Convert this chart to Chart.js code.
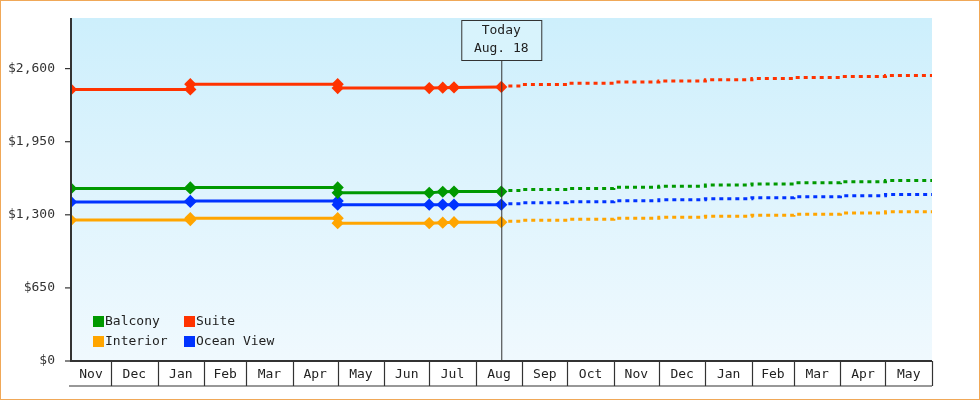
<!DOCTYPE html>
<html>
<head>
<meta charset="utf-8">
<script src="https://cdn.jsdelivr.net/npm/chart.js@4"></script>
<style>
  html, body { margin: 0; padding: 0; background: #fff; }
  #wrap { width: 978px; height: 398px; border: 1px solid #f0a858; }
</style>
</head>
<body>
<div id="wrap"><canvas id="priceChart" width="978" height="398"></canvas></div>
<script>
// x values are days since Nov 1, 2024
const monthLabels = ['Nov', 'Dec', 'Jan', 'Feb', 'Mar', 'Apr', 'May', 'Jun', 'Jul', 'Aug', 'Sep', 'Oct', 'Nov', 'Dec', 'Jan', 'Feb', 'Mar', 'Apr', 'May'];
const monthStarts = [0, 30, 61, 92, 120, 151, 181, 212, 242, 273, 304, 334, 365, 395, 426, 457, 485, 516, 546, 577];
const yTicks = [0, 650, 1300, 1950, 2600];

const histDays = [3.3, 82.8, 82.8, 181, 181, 242, 251, 258.5, 290];
const balconyHist  = [1534, 1534, 1543, 1543, 1495, 1495, 1505, 1507, 1507];
const suiteHist    = [2415, 2415, 2462, 2462, 2427, 2427, 2430, 2433, 2437];
const interiorHist = [1253, 1253, 1270, 1270, 1226, 1226, 1230, 1234, 1234];
const oceanHist    = [1414, 1414, 1423, 1423, 1390, 1390, 1390, 1390, 1390];

const projDays = [290, 304, 334, 365, 395, 426, 457, 485, 516, 546, 577];
const balconyProj  = [1507, 1515, 1525, 1535, 1545, 1555, 1565, 1575, 1585, 1595, 1605];
const suiteProj    = [2437, 2445, 2458, 2470, 2480, 2490, 2500, 2512, 2522, 2530, 2538];
const interiorProj = [1234, 1243, 1252, 1261, 1270, 1279, 1288, 1297, 1306, 1316, 1327];
const oceanProj    = [1390, 1398, 1407, 1416, 1425, 1434, 1443, 1452, 1461, 1470, 1480];

const todayDay = 290;
const todayText = ['Today', 'Aug. 18'];
const FONT = '"DejaVu Sans Mono", monospace';

const series = [
  { label: 'Balcony', color: '#009900', hist: balconyHist, proj: balconyProj },
  { label: 'Suite', color: '#ff3300', hist: suiteHist, proj: suiteProj },
  { label: 'Interior', color: '#ffa500', hist: interiorHist, proj: interiorProj },
  { label: 'Ocean View', color: '#0033ff', hist: oceanHist, proj: oceanProj }
];

const datasets = [];
series.forEach(s => {
  datasets.push({
    label: s.label, data: histDays.map((d, i) => ({ x: d, y: s.hist[i] })),
    borderColor: s.color, backgroundColor: s.color, borderWidth: 3,
    pointRadius: 4, pointStyle: 'rectRot', pointHoverRadius: 4, tension: 0
  });
  datasets.push({
    label: s.label + ' proj', data: projDays.map((d, i) => ({ x: d, y: s.proj[i] })),
    borderColor: s.color, borderWidth: 3, borderDash: [4, 4],
    pointRadius: 0, stepped: 'after', tension: 0
  });
});

const decor = {
  id: 'decor',
  beforeDraw(chart) {
    const { ctx, chartArea: a } = chart;
    const g = ctx.createLinearGradient(0, a.top, 0, a.bottom);
    g.addColorStop(0, '#cdeffc');
    g.addColorStop(1, '#f0f9fe');
    ctx.fillStyle = g;
    ctx.fillRect(a.left, a.top, a.right - a.left, a.bottom - a.top);
  },
  afterDraw(chart) {
    const { ctx, chartArea: a, scales } = chart;
    const x = scales.x;
    ctx.save();
    // today line + box
    const tx = x.getPixelForValue(todayDay);
    ctx.strokeStyle = '#333'; ctx.lineWidth = 1;
    ctx.beginPath(); ctx.moveTo(tx + 0.5, a.top + 42); ctx.lineTo(tx + 0.5, a.bottom); ctx.stroke();
    ctx.fillStyle = '#d8f3fc';
    ctx.fillRect(tx - 40, a.top + 2, 80, 40);
    ctx.strokeRect(tx - 40 + 0.5, a.top + 2.5, 80, 40);
    ctx.fillStyle = '#222'; ctx.font = '13px ' + FONT; ctx.textAlign = 'center'; ctx.textBaseline = 'middle';
    ctx.fillText(todayText[0], tx, a.top + 13);
    ctx.fillText(todayText[1], tx, a.top + 31);
    // axes
    ctx.strokeStyle = '#333'; ctx.lineWidth = 2;
    ctx.beginPath(); ctx.moveTo(a.left, a.top); ctx.lineTo(a.left, a.bottom); ctx.lineTo(a.right, a.bottom); ctx.stroke();
    // month cells
    ctx.lineWidth = 1.2;
    ctx.beginPath(); ctx.moveTo(a.left - 2, a.bottom + 25); ctx.lineTo(a.right, a.bottom + 25); ctx.stroke();
    ctx.font = '13px ' + FONT;
    monthLabels.forEach((m, i) => {
      const l = Math.max(x.getPixelForValue(monthStarts[i]), a.left);
      const r = Math.min(x.getPixelForValue(monthStarts[i + 1]), a.right);
      ctx.beginPath(); ctx.moveTo(Math.round(r) + 0.5, a.bottom); ctx.lineTo(Math.round(r) + 0.5, a.bottom + 25); ctx.stroke();
      ctx.fillText(m, (l + r) / 2, a.bottom + 14);
    });
    // y tick marks
    yTicks.forEach(v => {
      const y = scales.y.getPixelForValue(v);
      ctx.beginPath(); ctx.moveTo(a.left - 6, y); ctx.lineTo(a.left, y); ctx.stroke();
    });
    // legend
    ctx.textAlign = 'left';
    series.forEach((s, i) => {
      const lx = a.left + 22 + (i % 2) * 91;
      const ly = a.bottom - 40 + Math.floor(i / 2) * 20;
      ctx.fillStyle = s.color; ctx.fillRect(lx, ly - 5, 11, 11);
      ctx.fillStyle = '#222'; ctx.fillText(s.label, lx + 12, ly + 1);
    });
    ctx.restore();
  }
};

new Chart(document.getElementById('priceChart'), {
  type: 'line',
  data: { datasets },
  options: {
    responsive: false, animation: false,
    layout: { padding: { top: 17, right: 47, bottom: 0, left: 0 } },
    plugins: { legend: { display: false }, tooltip: { enabled: false } },
    scales: {
      x: {
        type: 'linear', min: 3.3, max: 577,
        grid: { display: false }, border: { display: false },
        ticks: { display: false },
        afterFit(sc) { sc.height = 38; }
      },
      y: {
        min: 0, max: 3050,
        afterBuildTicks(sc) { sc.ticks = yTicks.map(v => ({ value: v })); },
        grid: { display: false }, border: { display: false },
        ticks: {
          color: '#333', font: { family: FONT, size: 13 }, padding: 8,
          callback: v => '$' + v.toLocaleString('en-US')
        },
        afterFit(sc) { sc.width = 70; }
      }
    }
  },
  plugins: [decor]
});
</script>
</body>
</html>
